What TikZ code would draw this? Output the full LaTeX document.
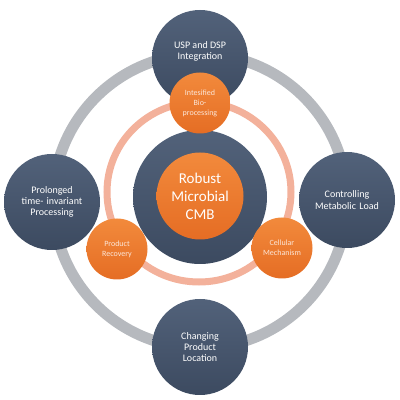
\documentclass[tikz,border=0pt]{standalone}
\usepackage{fontspec}
\setmainfont{Carlito}
\definecolor{slateTop}{HTML}{52627A}
\definecolor{slateBot}{HTML}{3C4A60}
\definecolor{orangeTop}{HTML}{F28A3C}
\definecolor{orangeBot}{HTML}{E56D24}
\definecolor{salmon}{HTML}{F3B19B}
\definecolor{ringGray}{HTML}{B6B9BE}
\definecolor{paleText}{HTML}{FCE6D8}

\begin{document}
\begin{tikzpicture}[x=1pt, y=1pt,
    outer/.style={circle, minimum size=96pt, inner sep=0pt, text width=84pt, align=center, top color=slateTop, bottom color=slateBot, text=white, font=\fontsize{10}{11.2}\selectfont},
    hub/.style={circle, minimum size=134pt, inner sep=0pt, top color=slateTop, bottom color=slateBot},
    core/.style={circle, minimum size=87pt, inner sep=0pt, align=center, top color=orangeTop, bottom color=orangeBot, text=white, font=\fontsize{15}{18}\selectfont},
    sat/.style={circle, minimum size=61pt, inner sep=0pt, text width=54pt, align=center, top color=orangeTop, bottom color=orangeBot, text=paleText, font=\fontsize{8}{10}\selectfont},
    bigRing/.style={draw=ringGray, line width=11pt},
    smallRing/.style={draw=salmon, line width=7pt}
]
\useasboundingbox (0,0) rectangle (400,400);

% Rings
\coordinate (ringC) at (200,199);
\coordinate (innerC) at (199,208);
\draw[bigRing] (ringC) circle (147);
\draw[smallRing] (innerC) ellipse (92 and 90);

% Outer circles
\node[outer, label={[text=white, align=center, font=\fontsize{10}{11.2}\selectfont, yshift=7pt]center:USP and DSP\\Integration}] (usp) at (200,342) {};
\node[outer] (prolonged) at (52,198) {Prolonged\\time- invariant\\Processing};
\node[outer] (load) at (347,200) {Controlling\\Metabolic Load};
\node[outer] (location) at (200,53) {Changing\\Product\\Location};

% Centre
\node[hub] (hub) at (200,203) {};
\node[core] (cmb) at (200,204) {Robust\\Microbial\\CMB};

% Satellites
\node[sat] (bio) at (200,297) {Intesified\\Bio-\\processing};
\node[sat] (recovery) at (117,151) {Product\\Recovery};
\node[sat] (cellular) at (282,152) {Cellular\\Mechanism};

\end{tikzpicture}
\end{document}
